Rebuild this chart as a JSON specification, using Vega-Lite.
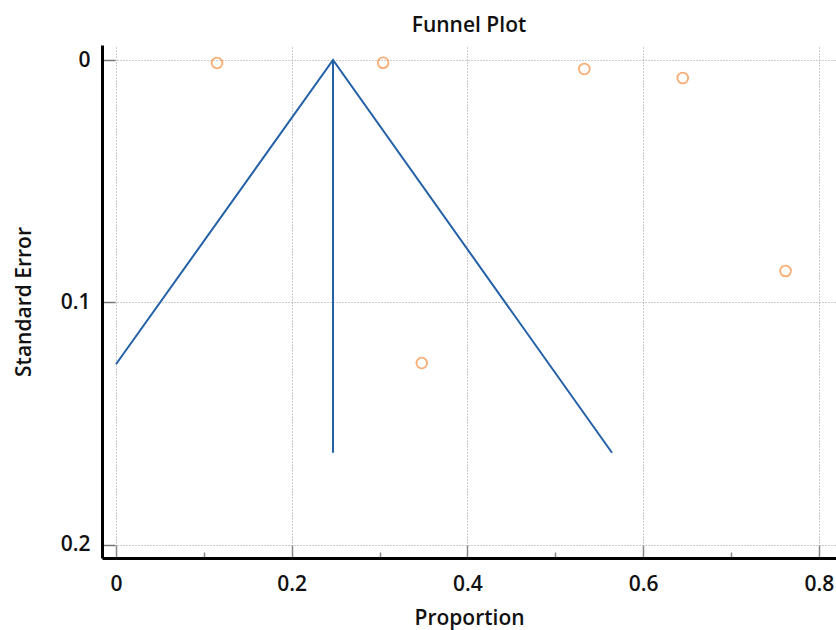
{
  "$schema": "https://vega.github.io/schema/vega-lite/v6.json",
  "width": 734,
  "height": 513,
  "autosize": {"type": "none"},
  "padding": {"left": 102, "top": 45, "right": 0, "bottom": 72},
  "background": "white",
  "title": {"text": "Funnel Plot", "font": "Open Sans", "fontSize": 21, "fontWeight": 600, "color": "#111111", "anchor": "middle", "offset": 9},
  "config": {"view": {"stroke": null}},
  "datasets": {
    "funnel": [
      {"series": "funnel", "order": 1, "proportion": 0.0, "se": 0.1255},
      {"series": "funnel", "order": 2, "proportion": 0.247, "se": 0.0},
      {"series": "funnel", "order": 3, "proportion": 0.5645, "se": 0.162},
      {"series": "center", "order": 1, "proportion": 0.247, "se": 0.0},
      {"series": "center", "order": 2, "proportion": 0.247, "se": 0.162}
    ],
    "studies": [
      {"proportion": 0.115, "se": 0.0012},
      {"proportion": 0.304, "se": 0.0011},
      {"proportion": 0.533, "se": 0.0037},
      {"proportion": 0.645, "se": 0.0074},
      {"proportion": 0.762, "se": 0.087},
      {"proportion": 0.348, "se": 0.125}
    ]
  },
  "layer": [
    {
      "data": {"name": "funnel"},
      "mark": {"type": "line", "color": "#2360a8", "strokeWidth": 2, "clip": true},
      "encoding": {
        "x": {
          "field": "proportion", "type": "quantitative",
          "scale": {"domain": [-0.0159, 0.8194], "nice": false, "zero": false},
          "axis": {
            "title": "Proportion",
            "titleFont": "Open Sans", "titleFontSize": 21, "titleFontWeight": 600, "titleColor": "#111111", "titlePadding": 13,
            "values": [0, 0.1, 0.2, 0.3, 0.4, 0.5, 0.6, 0.7, 0.8],
            "labelExpr": "round(datum.value*10) % 2 == 0 ? format(datum.value, '~g') : ''",
            "labelFont": "Open Sans", "labelFontSize": 21, "labelFontWeight": 600, "labelColor": "#111111", "labelPadding": 28,
            "domainColor": "#000000", "domainWidth": 3,
            "tickColor": "#888888", "tickWidth": 1.5,
            "tickSize": {"condition": {"test": "round(datum.value*10) % 2 == 0", "value": -13}, "value": -6},
            "grid": true, "gridColor": "#9a9a9a", "gridDash": [1, 2],
            "gridOpacity": {"condition": {"test": "round(datum.value*10) % 2 == 0", "value": 1}, "value": 0}
          }
        },
        "y": {
          "field": "se", "type": "quantitative",
          "scale": {"domain": [-0.0062, 0.2054], "nice": false, "zero": false, "reverse": true},
          "axis": {
            "title": "Standard Error",
            "titleFont": "Open Sans", "titleFontSize": 21, "titleFontWeight": 600, "titleColor": "#111111", "titlePadding": 26,
            "values": [0, 0.1, 0.2],
            "format": "~g",
            "labelFont": "Open Sans", "labelFontSize": 21, "labelFontWeight": 600, "labelColor": "#111111", "labelPadding": 25,
            "domainColor": "#000000", "domainWidth": 3,
            "tickColor": "#777777", "tickWidth": 1.5, "tickSize": -13,
            "grid": true, "gridColor": "#9a9a9a", "gridDash": [1, 2]
          }
        },
        "detail": {"field": "series"},
        "order": {"field": "order"}
      }
    },
    {
      "data": {"name": "studies"},
      "mark": {"type": "point", "shape": "circle", "filled": false, "color": "#f78a3a", "strokeWidth": 1.8, "size": 115},
      "encoding": {
        "x": {"field": "proportion", "type": "quantitative"},
        "y": {"field": "se", "type": "quantitative"}
      }
    }
  ]
}
